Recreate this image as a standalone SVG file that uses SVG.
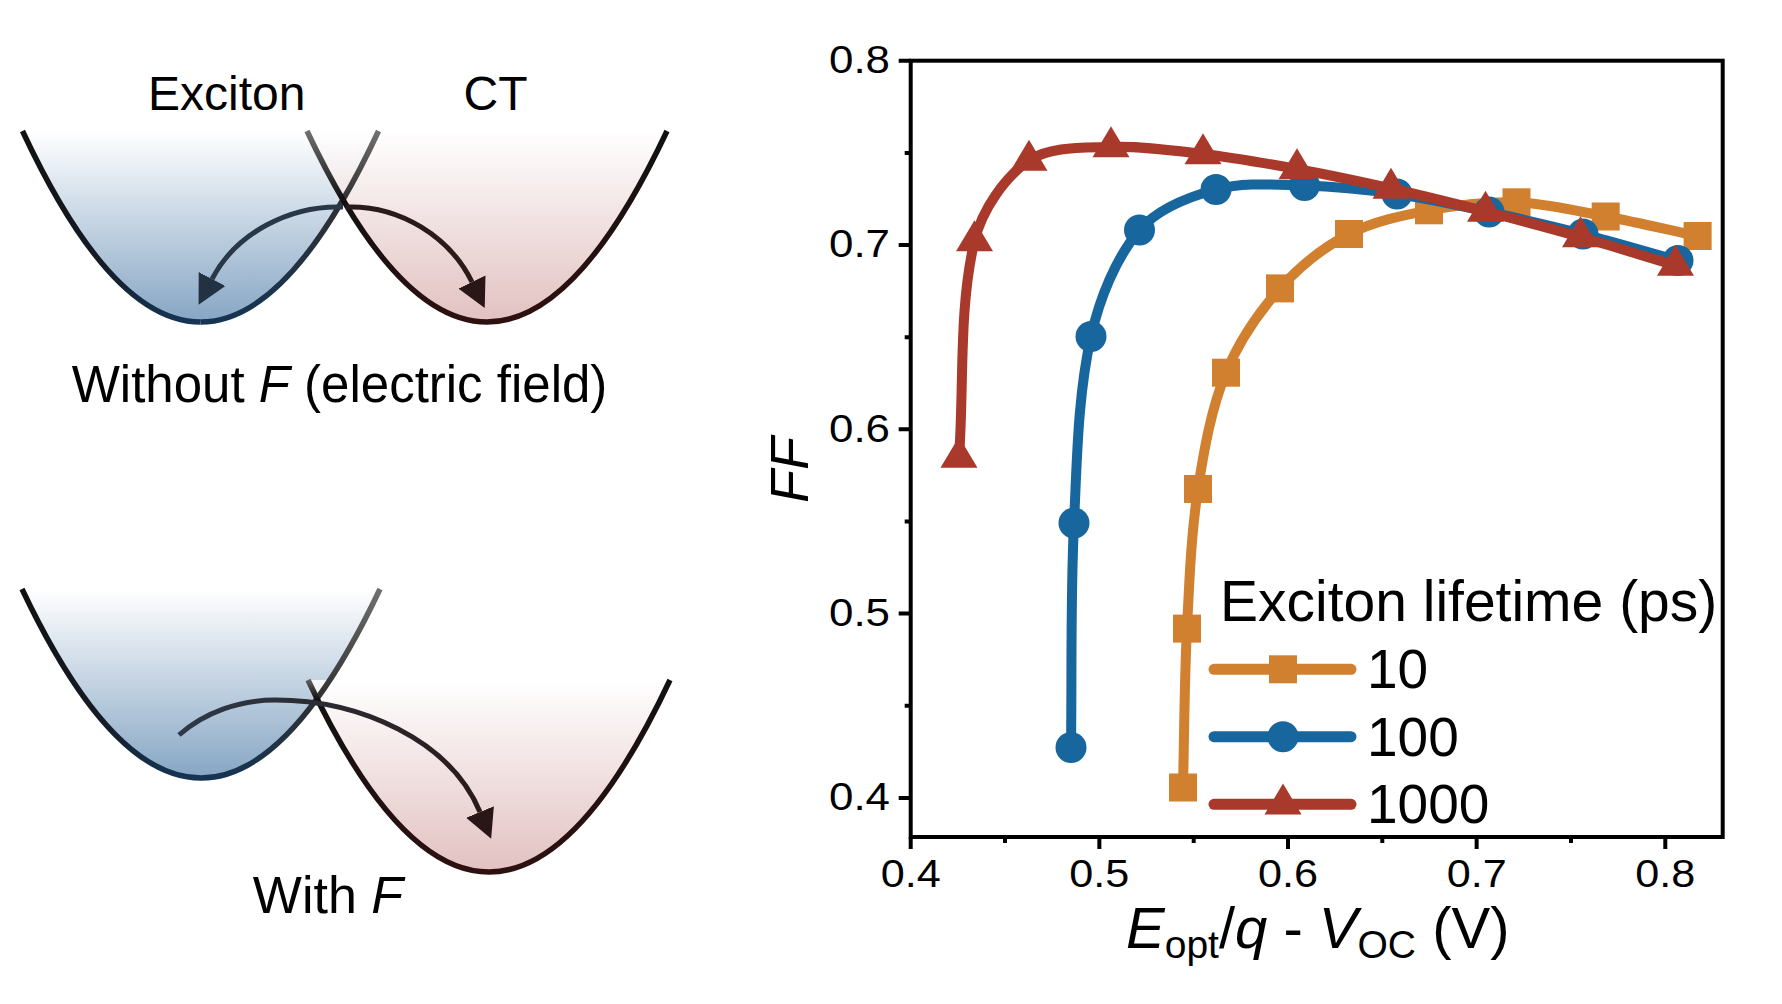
<svg xmlns="http://www.w3.org/2000/svg" width="1782" height="1004" viewBox="0 0 1782 1004">
<style>
 text{font-family:"Liberation Sans",Arial,sans-serif;fill:#000}
 .tick{font-size:38px}
 .axis{stroke:#000;stroke-width:4;fill:none}
 .tk{stroke:#000;stroke-width:4;fill:none}
 .curve{fill:none;stroke-width:10;stroke-linejoin:round}
 .par{fill:none;stroke-width:5.5}
 .arr{fill:none;stroke-width:5}
 .or{stroke:#D0802F;fill:#D0802F}
 .bl{stroke:#17669E;fill:#17669E}
 .rd{stroke:#A9392A;fill:#A9392A}
 .mk{stroke:none}
 .leg{stroke-width:11;stroke-linecap:round;fill:none}
</style>
<defs>
 <linearGradient id="fillEx1" gradientUnits="userSpaceOnUse" x1="0" y1="131" x2="0" y2="322"><stop offset="0" stop-color="#ffffff"/><stop offset="1" stop-color="#86a6c4"/></linearGradient>
 <linearGradient id="fillCt1" gradientUnits="userSpaceOnUse" x1="0" y1="131" x2="0" y2="322"><stop offset="0" stop-color="#ffffff"/><stop offset="1" stop-color="#ddb6b6"/></linearGradient>
 <linearGradient id="fillEx2" gradientUnits="userSpaceOnUse" x1="0" y1="589" x2="0" y2="778"><stop offset="0" stop-color="#ffffff"/><stop offset="1" stop-color="#86a6c4"/></linearGradient>
 <linearGradient id="fillCt2" gradientUnits="userSpaceOnUse" x1="0" y1="680" x2="0" y2="872"><stop offset="0" stop-color="#ffffff"/><stop offset="1" stop-color="#ddb6b6"/></linearGradient>
 <linearGradient id="sExL1" gradientUnits="userSpaceOnUse" x1="0" y1="131" x2="0" y2="322"><stop offset="0" stop-color="#111"/><stop offset="0.7" stop-color="#141c26"/><stop offset="1" stop-color="#163453"/></linearGradient>
 <linearGradient id="sExR1" gradientUnits="userSpaceOnUse" x1="0" y1="131" x2="0" y2="322"><stop offset="0" stop-color="#707070"/><stop offset="0.36" stop-color="#303030"/><stop offset="1" stop-color="#163453"/></linearGradient>
 <linearGradient id="sCtL1" gradientUnits="userSpaceOnUse" x1="0" y1="131" x2="0" y2="322"><stop offset="0" stop-color="#707070"/><stop offset="0.36" stop-color="#111"/><stop offset="1" stop-color="#2e1010"/></linearGradient>
 <linearGradient id="sCtR1" gradientUnits="userSpaceOnUse" x1="0" y1="131" x2="0" y2="322"><stop offset="0" stop-color="#111"/><stop offset="1" stop-color="#2e1010"/></linearGradient>
 <linearGradient id="sExL2" gradientUnits="userSpaceOnUse" x1="0" y1="589" x2="0" y2="778"><stop offset="0" stop-color="#111"/><stop offset="0.7" stop-color="#141c26"/><stop offset="1" stop-color="#163453"/></linearGradient>
 <linearGradient id="sExR2" gradientUnits="userSpaceOnUse" x1="0" y1="589" x2="0" y2="778"><stop offset="0" stop-color="#707070"/><stop offset="0.58" stop-color="#303030"/><stop offset="1" stop-color="#163453"/></linearGradient>
 <linearGradient id="sCtL2" gradientUnits="userSpaceOnUse" x1="0" y1="680" x2="0" y2="872"><stop offset="0" stop-color="#606060"/><stop offset="0.1" stop-color="#111"/><stop offset="1" stop-color="#2e1010"/></linearGradient>
 <linearGradient id="sCtR2" gradientUnits="userSpaceOnUse" x1="0" y1="680" x2="0" y2="872"><stop offset="0" stop-color="#111"/><stop offset="1" stop-color="#2e1010"/></linearGradient>
 <linearGradient id="sArr2" gradientUnits="userSpaceOnUse" x1="179" y1="0" x2="490" y2="0"><stop offset="0" stop-color="#2d3a48"/><stop offset="1" stop-color="#2a1a1a"/></linearGradient>
 <marker id="headBlue" viewBox="0 0 29 30" refX="0" refY="15" markerWidth="29" markerHeight="30" markerUnits="userSpaceOnUse" orient="auto"><path d="M0,0 L29,15 L0,30 Z" fill="#223243"/></marker>
 <marker id="headRed" viewBox="0 0 29 30" refX="0" refY="15" markerWidth="29" markerHeight="30" markerUnits="userSpaceOnUse" orient="auto"><path d="M0,0 L29,15 L0,30 Z" fill="#2a1616"/></marker>
 <rect id="sq" x="-14" y="-14" width="28" height="28"/>
 <circle id="ci" r="15.5"/>
 <path id="tri" d="M0,-20.7 L18.5,10.3 L-18.5,10.3 Z"/>
</defs>
<rect x="0" y="0" width="1782" height="1004" fill="#fff"/>

<g id="diagram-without-field">
 <path d="M22.5,131 Q200.5,513 378.5,131 Z" fill="url(#fillEx1)"/>
 <path d="M307,131 Q487,513 667,131 Z" fill="url(#fillCt1)" fill-opacity="0.85"/>
 <path class="par" d="M22.5,131 Q111.5,322 200.5,322" stroke="url(#sExL1)"/>
 <path class="par" d="M200.5,322 Q289.5,322 378.5,131" stroke="url(#sExR1)"/>
 <path class="par" d="M307,131 Q397,322 487,322" stroke="url(#sCtL1)"/>
 <path class="par" d="M487,322 Q577,322 667,131" stroke="url(#sCtR1)"/>
 <text x="148" y="110" font-size="48">Exciton</text>
 <text x="463.6" y="110" font-size="48">CT</text>
 <text x="71.7" y="402" font-size="51">Without <tspan font-style="italic">F</tspan> (electric field)</text>
</g>

<g id="diagram-with-field">
 <path d="M22,589 Q201,967 380,589 Z" fill="url(#fillEx2)"/>
 <path d="M308,680 Q489,1064 670,680 Z" fill="url(#fillCt2)" fill-opacity="0.85"/>
 <path class="par" d="M22,589 Q111.5,778 201,778" stroke="url(#sExL2)"/>
 <path class="par" d="M201,778 Q290.5,778 380,589" stroke="url(#sExR2)"/>
 <path class="par" d="M308,680 Q398.5,872 489,872" stroke="url(#sCtL2)"/>
 <path class="par" d="M489,872 Q579.5,872 670,680" stroke="url(#sCtR2)"/>
 <text x="252.8" y="913" font-size="52">With <tspan font-style="italic">F</tspan></text>
</g>

<g id="connectors">
 <path class="arr" d="M343,207 C290,205 236,233 212,279" stroke="#283848" marker-end="url(#headBlue)"/>
 <path class="arr" d="M346,207 C400,205 450,237 472,282" stroke="#2a1a1a" marker-end="url(#headRed)"/>
 <path class="arr" d="M179,735 C205,712 240,700 275,700 C360,700 450,740 480,812" stroke="url(#sArr2)" marker-end="url(#headRed)"/>
</g>

<g id="plot-axes">
 <rect class="axis" x="910.7" y="60.7" width="812" height="776.3"/>
 <path class="tk" d="M910.7,60.7 H898.7 M910.7,245 H898.7 M910.7,429.3 H898.7 M910.7,613.6 H898.7 M910.7,797.9 H898.7 M910.7,152.9 H904.7 M910.7,337.2 H904.7 M910.7,521.5 H904.7 M910.7,705.8 H904.7"/>
 <path class="tk" d="M910.7,837 V849 M1099.35,837 V849 M1288,837 V849 M1476.65,837 V849 M1665.3,837 V849 M1005,837 V843 M1193.7,837 V843 M1382.3,837 V843 M1571,837 V843"/>
 <g class="tick" text-anchor="end">
  <text x="890" y="73" textLength="61" lengthAdjust="spacingAndGlyphs">0.8</text>
  <text x="890" y="257.4" textLength="61" lengthAdjust="spacingAndGlyphs">0.7</text>
  <text x="890" y="441.7" textLength="61" lengthAdjust="spacingAndGlyphs">0.6</text>
  <text x="890" y="626" textLength="61" lengthAdjust="spacingAndGlyphs">0.5</text>
  <text x="890" y="810.3" textLength="61" lengthAdjust="spacingAndGlyphs">0.4</text>
 </g>
 <g class="tick" text-anchor="middle">
  <text x="910.7" y="887" textLength="60" lengthAdjust="spacingAndGlyphs">0.4</text>
  <text x="1099.35" y="887" textLength="60" lengthAdjust="spacingAndGlyphs">0.5</text>
  <text x="1288" y="887" textLength="60" lengthAdjust="spacingAndGlyphs">0.6</text>
  <text x="1476.65" y="887" textLength="60" lengthAdjust="spacingAndGlyphs">0.7</text>
  <text x="1665.3" y="887" textLength="60" lengthAdjust="spacingAndGlyphs">0.8</text>
 </g>
 <text transform="translate(808,470) rotate(-90)" text-anchor="middle" font-size="54" font-style="italic">FF</text>
 <text x="1126" y="948" font-size="58"><tspan font-style="italic">E</tspan><tspan font-size="39" dy="10">opt</tspan><tspan dy="-10">/</tspan><tspan font-style="italic">q</tspan><tspan> - </tspan><tspan font-style="italic">V</tspan><tspan font-size="39" dy="10">OC</tspan><tspan dy="-10"> (V)</tspan></text>
</g>

<g id="series-10" class="or">
 <path class="curve" d="M1183,787.5 C1184.3,734.5 1184.3,681.5 1187,628.6 C1189.3,582.0 1191.0,535.0 1198,489 C1204.0,449.7 1211.1,409.1 1226,372.7 C1238.5,342.2 1258.2,313.0 1280,288.4 C1299.2,266.8 1323.5,247.4 1349,234 C1373.2,221.3 1401.8,215.5 1429,210.3 C1457.6,204.9 1487.5,201.3 1516.5,202.3 C1546.4,203.4 1576.1,211.0 1605.7,216.5 C1636.5,222.2 1667.0,229.5 1697.6,236"/>
 <g class="mk">
  <use href="#sq" x="1183" y="787.5"/><use href="#sq" x="1187" y="628.6"/><use href="#sq" x="1198" y="489"/><use href="#sq" x="1226" y="372.7"/><use href="#sq" x="1280" y="288.4"/><use href="#sq" x="1349" y="234"/><use href="#sq" x="1429" y="210.3"/><use href="#sq" x="1516.5" y="202.3"/><use href="#sq" x="1605.7" y="216.5"/><use href="#sq" x="1697.6" y="236"/>
 </g>
</g>

<g id="series-100" class="bl">
 <path class="curve" d="M1071,747.5 C1072.0,672.7 1070.4,597.7 1074,523 C1077.0,460.7 1077.6,396.6 1091,336.5 C1099.4,298.9 1115.6,258.2 1139.5,230 C1157.2,209.2 1188.8,196.8 1216,189.5 C1243.8,182.0 1275.1,184.8 1304.5,185.5 C1335.4,186.3 1366.4,189.6 1397,194 C1427.9,198.4 1458.5,205.4 1489,212 C1520.5,218.8 1551.8,226.0 1583,234 C1614.8,242.2 1646.3,251.7 1678,260.5"/>
 <g class="mk">
  <use href="#ci" x="1071" y="747.5"/><use href="#ci" x="1074" y="523"/><use href="#ci" x="1091" y="336.5"/><use href="#ci" x="1139.5" y="230"/><use href="#ci" x="1216" y="189.5"/><use href="#ci" x="1304.5" y="185.5"/><use href="#ci" x="1397" y="194"/><use href="#ci" x="1489" y="212"/><use href="#ci" x="1583" y="234"/><use href="#ci" x="1678" y="260.5"/>
 </g>
</g>

<g id="series-1000" class="rd">
 <path class="curve" d="M959,457.5 C964.2,385.3 958.4,309.4 974.5,241 C981.7,210.4 1004.5,177.4 1029,160.5 C1050.0,146.1 1083.5,148.0 1111,147 C1141.5,145.9 1172.5,150.4 1203,154 C1234.5,157.7 1265.8,163.3 1297,169 C1328.5,174.8 1359.8,181.5 1391,188.5 C1422.6,195.6 1454.1,203.5 1485.5,211.5 C1517.3,219.6 1549.0,228.0 1580.5,237 C1612.3,246.0 1643.8,256.0 1675.5,265.5"/>
 <g class="mk">
  <use href="#tri" x="959" y="457.5"/><use href="#tri" x="974.5" y="241"/><use href="#tri" x="1029" y="160.5"/><use href="#tri" x="1111" y="147"/><use href="#tri" x="1203" y="154"/><use href="#tri" x="1297" y="169"/><use href="#tri" x="1391" y="188.5"/><use href="#tri" x="1485.5" y="211.5"/><use href="#tri" x="1580.5" y="237"/><use href="#tri" x="1675.5" y="265.5"/>
 </g>
</g>

<g id="legend">
 <text x="1220" y="621" font-size="57">Exciton lifetime (ps)</text>
 <path class="leg or" d="M1214,669.3 H1351"/>
 <use class="or mk" href="#sq" x="1283" y="669.3"/>
 <text x="1367" y="688" font-size="55">10</text>
 <path class="leg bl" d="M1214,736.7 H1351"/>
 <use class="bl mk" href="#ci" x="1283" y="736.7"/>
 <text x="1367" y="755.5" font-size="55">100</text>
 <path class="leg rd" d="M1214,804.3 H1351"/>
 <use class="rd mk" href="#tri" x="1283" y="804.3"/>
 <text x="1367" y="823" font-size="55">1000</text>
</g>
</svg>
